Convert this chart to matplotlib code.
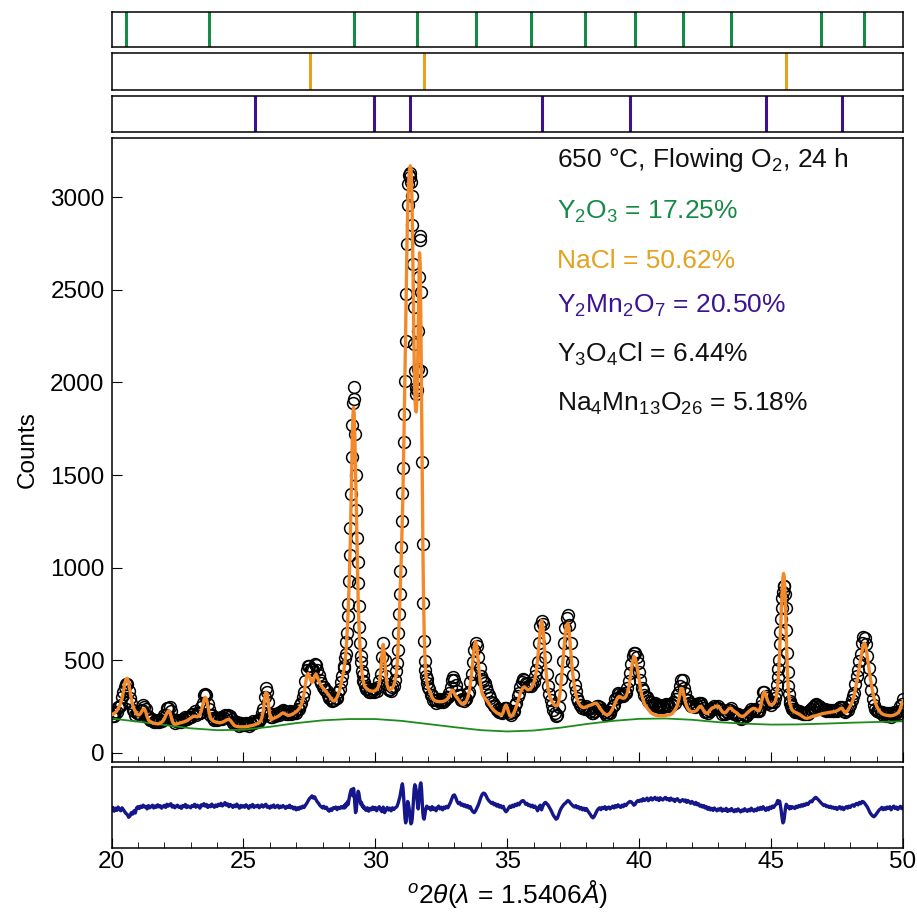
import numpy as np
import matplotlib
matplotlib.use('Agg')
import matplotlib.pyplot as plt

plt.rcParams['font.family'] = ['Liberation Sans', 'DejaVu Sans']
plt.rcParams['mathtext.fontset'] = 'custom'
plt.rcParams['mathtext.rm'] = 'Liberation Sans'
plt.rcParams['mathtext.it'] = 'Liberation Sans:italic'

# ---- refined pattern ----
# calculated profile (counts), one list per 2theta segment
calc_a = [  # 20.00 - 28.75, step 0.05
    205, 208, 212, 218, 226, 238, 252, 270, 295, 330,
    372, 398, 402, 380, 335, 290, 258, 238, 225, 212,
    204, 205, 212, 225, 236, 236, 220, 195, 178, 170,
    166, 163, 160, 158, 157, 156, 157, 160, 165, 172,
    183, 198, 215, 226, 224, 200, 172, 158, 154, 155,
    157, 159, 161, 163, 165, 167, 170, 173, 177, 182,
    187, 192, 196, 198, 195, 194, 198, 208, 225, 252,
    283, 300, 290, 255, 215, 190, 178, 172, 168, 166,
    164, 163, 162, 163, 165, 168, 172, 176, 179, 180,
    176, 166, 155, 147, 144, 142, 141, 140, 140, 140,
    140, 140, 141, 142, 143, 145, 146, 148, 150, 152,
    155, 158, 163, 172, 190, 225, 285, 325, 318, 262,
    205, 178, 182, 186, 189, 192, 196, 200, 206, 212,
    215, 213, 208, 204, 202, 203, 205, 208, 212, 217,
    222, 228, 236, 246, 262, 285, 322, 370, 415, 428,
    415, 392, 380, 390, 415, 425, 410, 390, 374, 362,
    352, 343, 335, 327, 318, 308, 298, 288, 280, 280,
    288, 300, 318, 340, 370, 410]
calc_b = [  # 28.800 - 29.600, step 0.025
    440, 465, 490, 525, 570, 630, 700, 780, 880, 1000,
    1130, 1300, 1490, 1680, 1820, 1865, 1830, 1700, 1520, 1320,
    1130, 960, 820, 710, 620, 550, 495, 455, 425, 400,
    382, 368, 358]
calc_c = [  # 29.65 - 30.75, step 0.05
    350, 343, 338, 335, 333, 332, 333, 336, 342, 352,
    375, 430, 530, 585, 520, 420, 365, 345, 340, 342,
    350, 365, 390]
calc_d = [  # 30.800 - 32.000, step 0.025
    430, 470, 530, 610, 700, 800, 900, 1010, 1130, 1270,
    1430, 1620, 1830, 2060, 2300, 2540, 2750, 2920, 3040, 3110,
    3150, 3170, 3160, 3080, 2900, 2640, 2350, 2100, 1930, 1850,
    1840, 1900, 2050, 2280, 2530, 2700, 2640, 2350, 1950, 1530,
    1150, 860, 660, 530, 455, 410, 385, 365, 350]
calc_e = [  # 32.05 - 45.15, step 0.05
    335, 318, 300, 288, 282, 279, 277, 276, 276, 276,
    277, 279, 282, 287, 294, 305, 322, 338, 336, 318,
    305, 296, 286, 276, 267, 262, 262, 268, 280, 298,
    325, 368, 430, 505, 575, 600, 570, 495, 415, 355,
    322, 305, 295, 287, 278, 266, 255, 245, 236, 228,
    222, 216, 212, 208, 204, 206, 220, 245, 258, 245,
    218, 200, 196, 202, 215, 232, 252, 276, 300, 322,
    340, 352, 356, 350, 342, 340, 342, 348, 358, 375,
    400, 440, 500, 580, 665, 715, 680, 590, 480, 395,
    342, 310, 290, 276, 265, 257, 252, 255, 275, 320,
    395, 480, 570, 645, 690, 700, 650, 560, 470, 405,
    355, 315, 288, 270, 258, 250, 246, 244, 245, 248,
    252, 255, 257, 259, 262, 266, 268, 265, 255, 243,
    233, 224, 216, 210, 206, 205, 208, 215, 226, 240,
    255, 272, 288, 300, 304, 300, 296, 294, 296, 305,
    322, 350, 390, 440, 492, 520, 512, 478, 440, 395,
    345, 310, 285, 265, 252, 242, 233, 224, 216, 211,
    207, 204, 202, 201, 200, 200, 200, 200, 201, 202,
    203, 204, 205, 207, 212, 220, 230, 242, 258, 285,
    322, 348, 345, 310, 275, 252, 238, 229, 224, 222,
    222, 223, 226, 232, 242, 250, 250, 240, 226, 216,
    213, 215, 222, 232, 240, 243, 246, 250, 253, 252,
    244, 232, 222, 216, 215, 220, 230, 238, 241, 238,
    230, 224, 220, 215, 208, 202, 198, 196, 197, 202,
    208, 215, 222, 228, 234, 238, 240, 238, 232, 226,
    228, 245, 280, 318, 330, 312, 290, 272, 262, 258,
    260, 266, 276]
calc_f = [  # 45.200 - 45.800, step 0.025
    300, 330, 365, 410, 470, 545, 630, 720, 810, 890,
    945, 968, 950, 880, 770, 640, 520, 420, 350, 305,
    278, 260, 248, 238, 230]
calc_g = [  # 45.85 - 50.00, step 0.05
    224, 220, 216, 213, 209, 205, 200, 195, 190, 187,
    186, 187, 189, 192, 195, 197, 199, 200, 202, 205,
    207, 209, 211, 213, 214, 215, 216, 218, 219, 220,
    221, 222, 224, 227, 231, 236, 241, 240, 228, 216,
    218, 228, 240, 252, 266, 284, 310, 345, 385, 425,
    462, 505, 550, 585, 592, 565, 515, 465, 415, 370,
    330, 298, 272, 252, 238, 227, 218, 212, 207, 205,
    203, 202, 201, 200, 200, 201, 203, 206, 210, 214,
    222, 238, 262, 280]

# difference obs - calc
diff_a = [
    -5, 8, -12, 4, -8, 10, -3, -10, 6, -4,
    -15, -25, -30, -45, -38, -20, -28, -10, -22, 5,
    12, 2, 15, 8, 20, 10, 14, 0, 18, 6,
    12, 20, 5, 16, 9, 22, 11, 17, 4, 14,
    19, 8, 25, 15, 22, 28, 10, 18, 6, 15,
    20, 9, 14, 3, 18, 12, 24, 7, 16, 11,
    6, 18, 13, 25, 9, 20, 15, 4, 22, 17,
    28, 15, 24, 8, 19, 12, 26, 14, 9, 21,
    13, 25, 18, 30, 16, 22, 34, 20, 27, 12,
    24, 18, 8, 20, 12, 26, 15, 4, 19, 10,
    17, 9, 22, 14, 3, 18, 11, 24, 8, 16,
    12, 20, 6, 15, 22, 10, 18, 25, 9, 14,
    4, 16, 10, 21, 7, 13, 19, 5, 15, 9,
    18, 11, 3, 14, 8, 20, 6, 12, 0, 9,
    -5, 6, -2, 10, 4, 15, 8, 20, 30, 42,
    55, 62, 70, 58, 65, 50, 38, 30, 18, 12,
    5, 14, 2, 9, -6, -12, 0, -8, 6, 3,
    10, -4, 8, 2, 12, 5]
diff_b = [
    15, 5, 22, 10, 30, 18, 40, 25, 50, 70,
    85, 100, 105, 90, 70, 110, 80, 20, -20, -10,
    30, 70, 95, 85, 60, 40, 25, 35, 15, 20,
    5, 12, 0]
diff_c = [
    -8, 6, -12, 3, -5, 10, -3, 8, -10, 4,
    12, -5, -15, 10, -20, -5, 8, -6, 4, -10,
    6, -3, 5]
diff_d = [
    10, 15, 25, 35, 50, 60, 80, 100, 120, 135,
    110, 60, 0, -50, -75, -60, 0, 40, 30, 10,
    -20, -60, -80, -75, -50, 0, 60, 110, 130, 120,
    100, 60, 20, 0, 40, 90, 130, 140, 110, 40,
    -20, -50, -55, -35, -10, 5, 15, 10, 5]
diff_e = [
    8, -6, 12, -3, 5, -10, 7, 15, 0, 9,
    -5, 10, 3, 14, 6, 20, 35, 55, 72, 75,
    60, 40, 28, 35, 20, 26, 15, 22, 10, 18,
    5, 12, -5, -15, -20, -10, 5, 20, 40, 62,
    78, 85, 82, 70, 55, 45, 38, 30, 35, 22,
    28, 15, 24, 10, 18, 6, 14, -5, -15, -8,
    5, 15, 8, 20, 12, 25, 18, 30, 22, 35,
    42, 45, 38, 25, 30, 18, 22, 12, 20, 8,
    15, 5, -10, 10, 20, -5, 15, 30, 35, 28,
    20, 8, -5, -20, -35, -45, -55, -50, -30, -10,
    5, 15, 25, 30, 38, 45, 40, 30, 22, 15,
    10, 18, 6, 12, 0, 8, -5, 4, -8, 2,
    -10, -20, -30, -42, -48, -40, -25, -10, 0, 6,
    -4, 8, 2, 12, -3, 6, 10, 0, 8, 15,
    5, 18, 10, 22, 14, 8, 20, 12, 25, 18,
    28, 35, 40, 38, 30, 20, 25, 38, 45, 40,
    48, 42, 55, 45, 50, 58, 44, 52, 60, 48,
    55, 62, 50, 58, 45, 60, 52, 48, 57, 62,
    50, 55, 45, 58, 48, 52, 40, 50, 55, 44,
    38, 45, 50, 42, 48, 35, 45, 38, 30, 40,
    32, 25, 35, 22, 28, 15, 20, 10, 18, 5,
    12, -2, 8, -5, 3, -8, 5, -3, -10, 0,
    -6, 4, -12, -2, -8, 3, -14, -5, -10, 2,
    -8, -15, -4, -12, 0, -9, -16, -6, -11, 1,
    -7, -13, -3, -10, 4, -6, -12, -2, -9, 5,
    -4, 8, -2, 12, 0, -8, 6, -5, 10, 2,
    15, 8, 20]
diff_f = [
    25, 35, 45, 40, 30, 42, 20, 0, -30, -55,
    -75, -70, -50, -20, 10, 25, 20, 15, 8, 12,
    0, 10, 4, 12, 6]
diff_g = [
    10, 2, 14, 8, 18, 12, 22, 15, 25, 20,
    30, 24, 35, 42, 38, 50, 58, 62, 55, 48,
    40, 32, 25, 18, 22, 12, 16, 8, 14, 5,
    10, 2, 8, -3, 6, 12, 0, 9, -4, 5,
    12, 4, 15, 8, 18, 22, 14, 25, 30, 22,
    35, 28, 40, 38, 30, 20, 10, -5, -20, -30,
    -38, -42, -35, -25, -15, -5, 0, 8, -4, 6,
    -2, 10, 3, 12, -5, 8, 15, 2, 10, -3,
    6, 14, 2, 10]

segments = [  # (start, stop, calc, diff)
    (20.0, 28.75, calc_a, diff_a),
    (28.8, 29.6, calc_b, diff_b),
    (29.65, 30.75, calc_c, diff_c),
    (30.8, 32.0, calc_d, diff_d),
    (32.05, 45.15, calc_e, diff_e),
    (45.2, 45.8, calc_f, diff_f),
    (45.85, 50.0, calc_g, diff_g),
]

# background (counts) at whole degrees
bg_2theta = list(range(20, 51))
bg_counts = [185, 168, 150, 132, 122, 124, 140, 160, 175, 182,
             182, 172, 155, 138, 122, 115, 120, 135, 155, 172,
             183, 185, 178, 165, 157, 152, 153, 157, 162, 166, 170]

# reflection markers
y2o3_pos = [20.55, 23.71, 29.19, 31.58, 33.83, 35.90, 37.94, 39.85, 41.67, 43.49, 46.89, 48.53]
nacl_pos = [27.53, 31.86, 45.57]
y2mn2o7_pos = [25.45, 29.96, 31.30, 36.30, 39.66, 44.82, 47.70]

title_text = '650 \u00b0C, Flowing O$_2$, 24 h'
phase_labels = ['Y$_2$O$_3$ = 17.25%', 'NaCl = 50.62%', 'Y$_2$Mn$_2$O$_7$ = 20.50%',
                'Y$_3$O$_4$Cl = 6.44%', 'Na$_4$Mn$_{13}$O$_{26}$ = 5.18%']

c_green = '#168a47'
c_orange = '#e3a21f'
c_purple = '#3b1290'
c_calc = '#f28a2c'

x_parts, calc_parts, diff_parts = [], [], []
for start, stop, c, d in segments:
    assert len(c) == len(d), (start, len(c), len(d))
    x_parts.append(np.linspace(start, stop, len(c)))
    calc_parts.append(np.array(c, dtype=float))
    diff_parts.append(np.array(d, dtype=float))
tth = np.concatenate(x_parts)
calc = np.concatenate(calc_parts)
diff = np.concatenate(diff_parts)
obs = calc + diff

fig = plt.figure(figsize=(9.17, 9.14), dpi=100)
left, width = 0.1216, 0.8631

# tick panels
tick_axes = []
for bottom, height, pos, col in [(0.9486, 0.0383, y2o3_pos, c_green),
                                 (0.9015, 0.0405, nacl_pos, c_orange),
                                 (0.8556, 0.0394, y2mn2o7_pos, c_purple)]:
    tax = fig.add_axes([left, bottom, width, height])
    for p in pos:
        tax.axvline(p, color=col, lw=2.2)
    tax.set_xlim(20, 50)
    tax.set_ylim(0, 1)
    tax.set_xticks([])
    tax.set_yticks([])
    tick_axes.append(tax)

# main panel
ax = fig.add_axes([left, 0.1663, width, 0.6827])
ax.plot(tth, obs, 'o', mfc='none', mec='black', ms=8.5, mew=1.1, zorder=1)
ax.plot(bg_2theta, bg_counts, color='#1d8c1d', lw=1.3, zorder=2)
ax.plot(tth, calc, color=c_calc, lw=2.4, zorder=3)
ax.set_xlim(20, 50)
ax.set_ylim(-50, 3320)
ax.set_yticks([0, 500, 1000, 1500, 2000, 2500, 3000])
ax.set_xticks([20, 25, 30, 35, 40, 45, 50])
ax.set_xticks(np.arange(20, 51, 1), minor=True)
ax.tick_params(axis='both', which='both', direction='in', top=False, right=False)
ax.tick_params(axis='x', labelbottom=False)
ax.tick_params(which='major', length=7)
ax.tick_params(which='minor', length=4)
ax.tick_params(axis='y', labelsize=17.5, pad=5)
ax.set_ylabel('Counts', fontsize=17.5, labelpad=8)

tx = 0.563
ax.text(tx, 0.965, title_text, transform=ax.transAxes,
        fontsize=19, va='center', color='#111111')
for lab, yy, col in zip(phase_labels, [0.881, 0.803, 0.731, 0.654, 0.574],
                        [c_green, c_orange, c_purple, '#111111', '#111111']):
    ax.text(tx, yy, lab, transform=ax.transAxes, fontsize=19, va='center', color=col)

# difference panel
rax = fig.add_axes([left, 0.0722, width, 0.0886])
rax.plot(tth, diff, color='#15168a', lw=2.4)
rax.set_xlim(20, 50)
rax.set_ylim(-210, 225)
rax.set_yticks([])
rax.set_xticks([20, 25, 30, 35, 40, 45, 50])
rax.set_xticks(np.arange(20, 51, 1), minor=True)
rax.tick_params(axis='x', which='both', direction='in', top=False)
rax.tick_params(which='major', length=7)
rax.tick_params(which='minor', length=4)
rax.tick_params(axis='x', labelsize=17.5, pad=2)
rax.set_xlabel(r'$^o2\theta(\lambda\, =\, 1.5406\AA)$', fontsize=19, labelpad=4)

for a in tick_axes + [ax, rax]:
    for s in a.spines.values():
        s.set_linewidth(1.1)

fig.savefig('out.png', dpi=100)
